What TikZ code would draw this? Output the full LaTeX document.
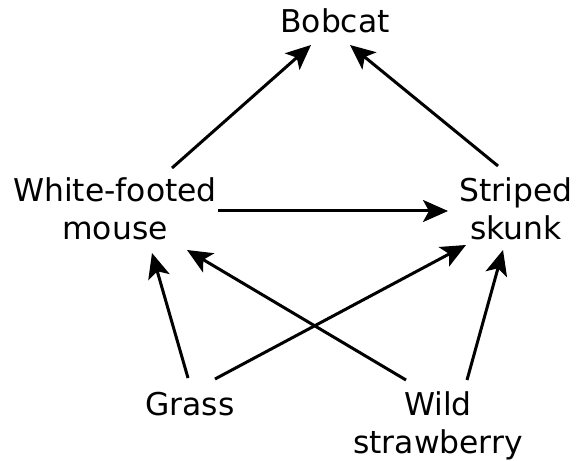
\documentclass[tikz,border=0pt]{standalone}
\usepackage{fontspec}
\setmainfont{DejaVu Sans}
\usetikzlibrary{arrows.meta,calc}
\begin{document}
\begin{tikzpicture}[x=1bp,y=-1bp,
  lbl/.style={inner sep=0pt, align=center, font=\fontsize{31.4bp}{38bp}\selectfont},
  arr/.style={line width=3bp, -{Stealth[length=25bp,width=22bp,inset=6bp]}}]
\useasboundingbox (0,0) rectangle (576,461);
\node[lbl] (bob) at (335,21) {Bobcat};
\node[lbl] (mouse) at (115,209) {White-footed\\mouse};
\node[lbl] (skunk) at (516,209) {Striped\\skunk};
\node[lbl] (grass) at (190,404) {Grass};
\node[lbl] (wild) at (438,426) {Wild\\strawberry};
\draw[arr] ($(mouse)+(57,-41)$) -- ($(bob)+(-24,24)$);
\draw[arr] ($(skunk)+(-18,-43)$) -- ($(bob)+(15,24)$);
\draw[arr] ($(mouse)+(103,2)$) -- ($(skunk)+(-68,2)$);
\draw[arr] ($(grass)+(-2,-26)$) -- ($(mouse)+(37,44)$);
\draw[arr] ($(grass)+(25,-25)$) -- ($(skunk)+(-50,36)$);
\draw[arr] ($(wild)+(-32,-46)$) -- ($(mouse)+(72,41)$);
\draw[arr] ($(wild)+(29,-46)$) -- ($(skunk)+(-13,41)$);
\end{tikzpicture}
\end{document}
